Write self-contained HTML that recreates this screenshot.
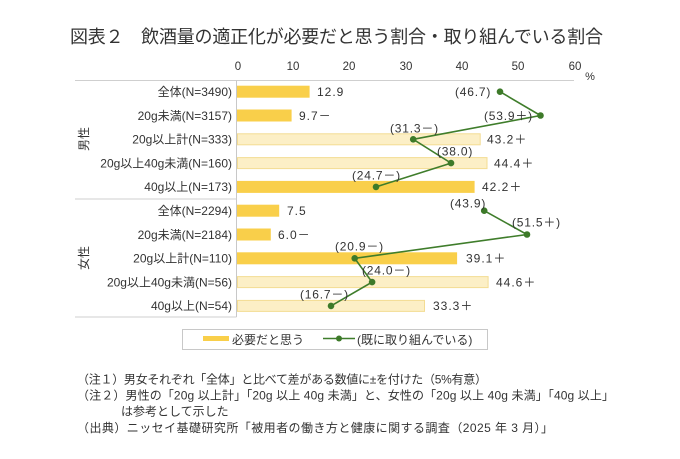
<!DOCTYPE html>
<html><head><meta charset="utf-8">
<style>
html,body{margin:0;padding:0;background:#fff;}
svg{display:block;}
text{font-family:"Liberation Sans","Noto Sans CJK JP",sans-serif;fill:#333;}
</style></head>
<body>
<svg width="680" height="459" viewBox="0 0 680 459" xmlns="http://www.w3.org/2000/svg">
<rect width="680" height="459" fill="#fff"/>
<!-- title -->
<text x="70" y="43" font-size="18" textLength="533" fill="#222">図表２　飲酒量の適正化が必要だと思う割合・取り組んでいる割合</text>

<!-- ticks -->
<g font-size="11.5" text-anchor="middle">
<text x="238" y="70">0</text>
<text x="293" y="70">10</text>
<text x="349" y="70">20</text>
<text x="406" y="70">30</text>
<text x="462" y="70">40</text>
<text x="518" y="70">50</text>
<text x="575" y="70">60</text>
<text x="590" y="80" font-size="11">%</text>
</g>

<!-- axis lines -->
<line x1="75" y1="80.5" x2="574" y2="80.5" stroke="#cfcfcf" stroke-width="1"/>
<line x1="236.5" y1="80.5" x2="236.5" y2="317" stroke="#c8c8c8" stroke-width="1"/>
<line x1="75" y1="199" x2="236.5" y2="199" stroke="#cfcfcf" stroke-width="1"/>
<line x1="75" y1="317" x2="236.5" y2="317" stroke="#cfcfcf" stroke-width="1"/>

<!-- group labels -->
<text x="0" y="0" font-size="12" text-anchor="middle" transform="translate(88,139) rotate(-90)">男性</text>
<text x="0" y="0" font-size="12" text-anchor="middle" transform="translate(88,258) rotate(-90)">女性</text>

<!-- category labels -->
<g font-size="12" text-anchor="end">
<text x="232" y="96">全体(N=3490)</text>
<text x="232" y="119.8">20g未満(N=3157)</text>
<text x="232" y="143.6">20g以上計(N=333)</text>
<text x="232" y="167.4">20g以上40g未満(N=160)</text>
<text x="232" y="191.2">40g以上(N=173)</text>
<text x="232" y="215">全体(N=2294)</text>
<text x="232" y="238.8">20g未満(N=2184)</text>
<text x="232" y="262.6">20g以上計(N=110)</text>
<text x="232" y="286.4">20g以上40g未満(N=56)</text>
<text x="232" y="310.2">40g以上(N=54)</text>
</g>

<!-- bars -->
<g>
<rect x="237" y="85.7" width="72.6" height="12" fill="#f9cf4a"/>
<rect x="237" y="109.5" width="54.6" height="12" fill="#f9cf4a"/>
<rect x="237.5" y="133.8" width="242.7" height="11" fill="#fcefc6" stroke="#f3dc93" stroke-width="1"/>
<rect x="237.5" y="157.6" width="249.5" height="11" fill="#fcefc6" stroke="#f3dc93" stroke-width="1"/>
<rect x="237" y="180.9" width="237.6" height="12" fill="#f9cf4a"/>
<rect x="237" y="204.7" width="42.2" height="12" fill="#f9cf4a"/>
<rect x="237" y="228.5" width="33.8" height="12" fill="#f9cf4a"/>
<rect x="237" y="252.3" width="220.1" height="12" fill="#f9cf4a"/>
<rect x="237.5" y="276.6" width="250.6" height="11" fill="#fcefc6" stroke="#f3dc93" stroke-width="1"/>
<rect x="237.5" y="300.4" width="187" height="11" fill="#fcefc6" stroke="#f3dc93" stroke-width="1"/>
</g>

<!-- bar value labels -->
<g font-size="12" letter-spacing="1">
<text x="317" y="96">12.9</text>
<text x="299" y="119.8">9.7－</text>
<text x="487" y="143.6">43.2＋</text>
<text x="494" y="167.4">44.4＋</text>
<text x="482" y="191.2">42.2＋</text>
<text x="287" y="215">7.5</text>
<text x="278" y="238.8">6.0－</text>
<text x="466" y="262.6">39.1＋</text>
<text x="496" y="286.4">44.6＋</text>
<text x="433" y="310.2">33.3＋</text>
</g>

<!-- lines -->
<polyline points="500,91.7 540.5,115.5 413.2,139.3 451,163.1 376,186.9" fill="none" stroke="#3f7d2b" stroke-width="1.6"/>
<polyline points="484.2,210.7 527,234.5 354.7,258.3 372.1,282.1 331,305.9" fill="none" stroke="#3f7d2b" stroke-width="1.6"/>
<g fill="#3d7a29">
<circle cx="500" cy="91.7" r="3.3"/>
<circle cx="540.5" cy="115.5" r="3.3"/>
<circle cx="413.2" cy="139.3" r="3.3"/>
<circle cx="451" cy="163.1" r="3.3"/>
<circle cx="376" cy="186.9" r="3.3"/>
<circle cx="484.2" cy="210.7" r="3.3"/>
<circle cx="527" cy="234.5" r="3.3"/>
<circle cx="354.7" cy="258.3" r="3.3"/>
<circle cx="372.1" cy="282.1" r="3.3"/>
<circle cx="331" cy="305.9" r="3.3"/>
</g>

<!-- line labels -->
<g font-size="12" letter-spacing="0.8">
<text x="455" y="96">(46.7)</text>
<text x="484" y="120">(53.9＋)</text>
<text x="390" y="132.5">(31.3－)</text>
<text x="437" y="155.5">(38.0)</text>
<text x="352" y="179.5">(24.7－)</text>
<text x="450" y="207.5">(43.9)</text>
<text x="512" y="226.5">(51.5＋)</text>
<text x="335" y="250.5">(20.9－)</text>
<text x="362" y="274.5">(24.0－)</text>
<text x="300" y="298.5">(16.7－)</text>
</g>

<!-- legend -->
<rect x="182.5" y="329.5" width="305" height="20" fill="#fff" stroke="#c8c8c8" stroke-width="1"/>
<rect x="203" y="336" width="26" height="5" fill="#f9cf4a"/>
<text x="232" y="344" font-size="12">必要だと思う</text>
<line x1="323" y1="338.5" x2="355" y2="338.5" stroke="#3f7d2b" stroke-width="1.6"/>
<circle cx="339" cy="338.5" r="3" fill="#3d7a29"/>
<text x="357" y="344" font-size="12">(既に取り組んでいる)</text>

<!-- notes -->
<g font-size="12" fill="#222">
<text x="77" y="383.5" textLength="410">（注１）男女それぞれ「全体」と比べて差がある数値に±を付けた（5%有意）</text>
<text x="77" y="399.5" textLength="537">（注２）男性の「20g 以上計」「20g 以上 40g 未満」と、女性の「20g 以上 40g 未満」「40g 以上」</text>
<text x="121" y="415.5">は参考として示した</text>
<text x="77" y="432" textLength="476">（出典）ニッセイ基礎研究所「被用者の働き方と健康に関する調査（2025 年 3 月）」</text>
</g>
</svg>
</body></html>
